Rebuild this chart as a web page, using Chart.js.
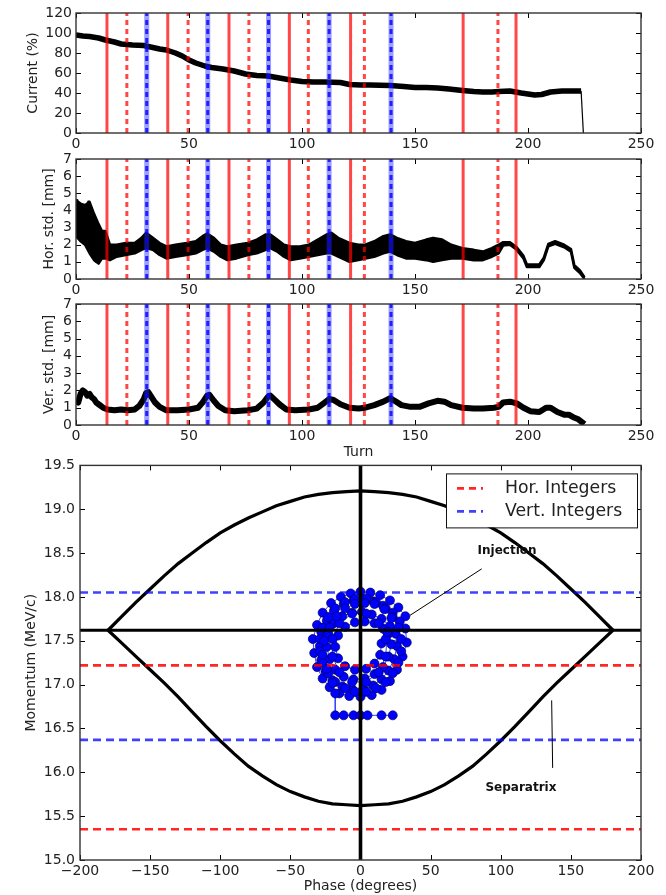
<!DOCTYPE html>
<html>
<head>
<meta charset="utf-8">
<script src="https://cdn.jsdelivr.net/npm/chart.js@4.4.0/dist/chart.umd.min.js"></script>
<style>
  html, body { margin: 0; padding: 0; background: #fff; }
  #wrap { position: relative; width: 666px; height: 895px; overflow: hidden; }
  #wrap canvas { position: absolute; left: 0; }
</style>
</head>
<body>
<div id="wrap">
  <canvas id="c1" width="666" height="155" style="top:0px"></canvas>
  <canvas id="c2" width="666" height="155" style="top:146px"></canvas>
  <canvas id="c3" width="666" height="170" style="top:291px"></canvas>
  <canvas id="c4" width="666" height="443" style="top:452px"></canvas>
</div>
<script>
// turns where the tune crosses an integer
const redSolidTurns = [13.7, 40.6, 67.7, 94.4, 121.5, 171.3, 194.7];
const redDashedTurns = [22.5, 49.6, 76.5, 102.8, 127.6, 186.7];
const blueTurns = [31.3, 58.3, 85.2, 112.0, 139.4];

// beam current
const currentTurn = [0,3,6,10,13,17,20,25,30,33,37,40,44,47,50,53,57,60,65,70,75,80,85,90,95,100,105,110,117,121,126,130,139,145,150,155,160,165,171,176,180,184,187,192,197,200,203,206,210,215,220,223.5,224.5];
const currentPct = [98,97,96.5,95,93,91,89,88,87.5,86,84,83,80,77,73,70,67,65.5,64,62,59,57.5,57,55,53,51.5,51,51,50.5,48.5,48,48,47.5,46.5,45.5,45.5,45,44,42.5,41.5,41,41,41.5,42,40,39,38,38.5,41,42,42,42,0];

// horizontal beam size (band low / high)
const horTurn = [0,2,4,6,8,10,11.5,13,15,18,22,26,29,31,34,37,40,44,49,53,56,58,61,64,67,71,76,80,84,86,89,92,95,99,103,107,111,113,116,121,125,128,132,136,139,142,146,150,155,158,162,166,171,176,180,184,187,189,192,195,198,199.5,205,207,209,212,216,219,220.5,223,225];
const horLow = [2.5,2.2,2.0,1.5,1.1,0.9,1.2,1.2,1.1,1.3,1.4,1.5,1.7,1.8,1.7,1.4,1.2,1.3,1.4,1.5,1.7,1.8,1.6,1.3,1.1,1.2,1.4,1.5,1.7,1.8,1.6,1.3,1.1,1.2,1.3,1.4,1.5,1.5,1.3,1.0,1.1,1.2,1.3,1.5,1.6,1.4,1.2,1.2,1.1,1.0,1.1,1.2,1.2,1.1,1.1,1.3,1.5,1.95,2.0,1.7,1.2,0.7,0.7,1.1,1.9,2.05,1.85,1.6,0.65,0.35,0.0];
const horHigh = [4.6,4.4,4.3,4.5,3.8,3.2,2.8,2.8,2.0,2.0,2.1,2.1,2.4,2.7,2.4,2.1,1.9,2.0,2.1,2.2,2.5,2.65,2.4,2.0,1.9,2.0,2.1,2.3,2.6,2.6,2.3,2.0,1.9,1.9,2.0,2.3,2.6,2.7,2.4,2.1,2.0,2.0,2.2,2.5,2.6,2.4,2.2,2.1,2.3,2.4,2.3,2.0,1.8,1.7,1.6,1.8,2.0,2.15,2.15,1.85,1.35,0.85,0.85,1.25,2.05,2.2,2.0,1.75,0.8,0.5,0.1];
const horNoiseTurn = [0,0.5,1,1.5,2,2.5,3,3.5,4,4.5,5,5.5,6,6.5,7,7.5,8,8.5,9,9.5,10,10.5,11,11.5,12,12.5,13];
const horNoise = [3.2,4.6,2.8,4.3,2.6,4.0,2.2,3.8,2.5,3.5,1.9,4.5,2.3,3.6,1.6,3.3,1.4,2.9,1.0,2.6,1.3,2.7,1.2,2.5,1.4,2.3,1.5];

// vertical beam size
const verTurn = [0,1,2,3,4,5,6,7,8,9,10,12,14,17,20,23,26,28,30,31,32,33,35,37,40,45,50,54,56,58,59,61,63,66,70,76,80,83,85,86,88,90,93,97,103,107,110,112,114,117,121,125,128,132,136,139,141,144,148,152,156,160,163,166,171,176,180,185,187,189,192,195,198,201,205,208,210,213,216,218,220,222,224,225];
const verStd = [1.4,1.3,1.8,2.0,1.9,1.7,1.8,1.6,1.5,1.3,1.2,1.0,0.9,0.85,0.9,0.85,0.9,1.1,1.5,1.85,1.9,1.7,1.3,1.05,0.85,0.85,0.9,1.0,1.3,1.7,1.75,1.4,1.1,0.85,0.8,0.85,0.95,1.3,1.65,1.7,1.45,1.2,0.9,0.85,0.9,1.0,1.3,1.5,1.45,1.2,1.0,0.95,1.0,1.15,1.35,1.55,1.4,1.15,1.05,1.05,1.25,1.4,1.35,1.15,1.0,0.95,0.95,1.0,1.05,1.3,1.35,1.25,1.0,0.8,0.75,1.0,1.0,0.75,0.6,0.6,0.45,0.35,0.15,0.05];

// longitudinal phase space
const sepPhase = [-180,-170,-160,-150,-140,-130,-120,-110,-100,-90,-80,-70,-60,-50,-40,-30,-20,-10,0,10,20,30,40,50,60,70,80,90,100,110,120,130,140,150,160,170,180];
const sepUpper = [17.62,17.78,17.94,18.09,18.24,18.38,18.50,18.62,18.73,18.82,18.90,18.97,19.04,19.09,19.14,19.17,19.19,19.20,19.21,19.20,19.19,19.17,19.14,19.09,19.04,18.97,18.90,18.82,18.73,18.62,18.50,18.38,18.24,18.09,17.94,17.78,17.62];
const sepLower = [17.62,17.47,17.32,17.17,17.02,16.86,16.69,16.52,16.36,16.21,16.07,15.96,15.86,15.78,15.72,15.67,15.64,15.63,15.62,15.63,15.64,15.67,15.72,15.78,15.86,15.96,16.07,16.21,16.36,16.52,16.69,16.86,17.02,17.17,17.32,17.47,17.62];
const syncMomentum = 17.62;
const horIntegers = [17.22, 15.35];
const vertIntegers = [18.05, 16.37];
const trajPhase = [32,27,21,14,7,0,-7,-14,-21,-27,-31,-34,-33,-31,-27,-22,-15,-8,0,8,15,21,26,30,33,32,
  28,23,16,9,2,-5,-12,-19,-24,-28,-29,-28,-25,-20,-13,-6,2,9,15,20,24,26,25,
  21,15,8,1,-6,-13,-19,-23,-24,-22,-18,-12,-5,3,10,16,20,22,20,
  16,10,3,-4,-11,-16,-18,-16,-11,-4,4,10,14,15,
  29,27,23,18,11,4,-4,-11,-18,-23,-27,-29,-29,-27,-23,-18,-11,-4,4,11,18,23,27,29,
  18,13,4,-6,-15,-20,-20,-15,-6,4,13,18,
  19,22,17,10,3,-4,-11,-17,-22,-26,-27,-24,-20,-18,-18,-12,-5,0,5,15,23];
const trajMom = [17.78,17.88,17.96,18.02,18.05,18.06,18.04,18.0,17.93,17.82,17.68,17.52,17.36,17.2,17.07,16.97,16.9,16.87,16.86,16.88,16.94,17.04,17.17,17.32,17.48,17.64,
  17.72,17.82,17.9,17.95,17.97,17.96,17.92,17.84,17.73,17.6,17.44,17.28,17.15,17.05,16.98,16.95,16.95,16.99,17.06,17.16,17.29,17.44,17.58,
  17.67,17.75,17.8,17.83,17.82,17.78,17.7,17.58,17.43,17.29,17.17,17.09,17.06,17.07,17.12,17.2,17.32,17.46,17.58,
  17.64,17.7,17.72,17.71,17.66,17.56,17.43,17.3,17.21,17.17,17.18,17.24,17.34,17.47,
  17.52,17.65,17.77,17.87,17.94,17.98,17.98,17.94,17.87,17.77,17.65,17.52,17.38,17.25,17.13,17.03,16.96,16.92,16.92,16.96,17.03,17.13,17.25,17.38,
  17.52,17.7,17.81,17.81,17.7,17.52,17.32,17.14,17.03,17.03,17.14,17.32,
  17.6,17.76,17.86,17.92,17.93,17.92,17.87,17.78,17.65,17.5,17.34,17.18,17.02,16.9,16.65,16.65,16.65,16.65,16.65,16.65,16.65];

const FONT = "'DejaVu Sans', 'Liberation Sans', sans-serif";
const TXT = '#222';

const pts = (xs, ys) => xs.map((x, i) => ({ x: x, y: ys[i] }));

// inward ticks on all four sides plus the box
const framePlugin = {
  id: 'frame',
  afterDatasetsDraw(chart) {
    const { ctx, chartArea: a, scales } = chart;
    ctx.save();
    ctx.strokeStyle = '#000';
    ctx.lineWidth = 1;
    ctx.beginPath();
    scales.x.ticks.forEach(t => {
      const px = Math.round(scales.x.getPixelForValue(t.value)) + 0.5;
      ctx.moveTo(px, a.bottom); ctx.lineTo(px, a.bottom - 5);
      ctx.moveTo(px, a.top); ctx.lineTo(px, a.top + 5);
    });
    scales.y.ticks.forEach(t => {
      const py = Math.round(scales.y.getPixelForValue(t.value)) + 0.5;
      ctx.moveTo(a.left, py); ctx.lineTo(a.left + 5, py);
      ctx.moveTo(a.right, py); ctx.lineTo(a.right - 5, py);
    });
    ctx.stroke();
    ctx.strokeStyle = '#333';
    ctx.lineWidth = 1.4;
    ctx.strokeRect(a.left, a.top, a.width, a.height);
    ctx.restore();
  }
};

function markerLines(yMax) {
  const sets = [];
  const v = t => [{ x: t, y: 0 }, { x: t, y: yMax }];
  redSolidTurns.forEach(t => sets.push({ data: v(t), borderColor: 'rgba(255,0,0,0.72)', borderWidth: 3, order: 1 }));
  redDashedTurns.forEach(t => sets.push({ data: v(t), borderColor: 'rgba(255,0,0,0.72)', borderWidth: 3, borderDash: [5, 4], order: 1 }));
  blueTurns.forEach(t => {
    sets.push({ data: v(t), borderColor: 'rgba(40,40,255,0.45)', borderWidth: 5, order: 2 });
    sets.push({ data: v(t), borderColor: 'rgba(0,0,255,0.8)', borderWidth: 3, borderDash: [5, 4], order: 1 });
  });
  return sets;
}

function stripChart(id, yMax, yStep, yTitle, titlePad, datasets, xHeight, showTurn) {
  return new Chart(document.getElementById(id), {
    type: 'line',
    data: { datasets: markerLines(yMax).concat(datasets) },
    options: {
      responsive: false,
      animation: false,
      events: [],
      layout: { padding: { top: 13, right: 25, left: 0, bottom: 0 } },
      plugins: { legend: { display: false }, tooltip: { enabled: false } },
      elements: { point: { radius: 0 }, line: { tension: 0, borderJoinStyle: 'round' } },
      scales: {
        x: {
          type: 'linear', min: 0, max: 250,
          grid: { display: false, drawTicks: false }, border: { display: false },
          ticks: { stepSize: 50, autoSkip: false, maxRotation: 0, padding: 3, color: TXT, font: { family: FONT, size: 14 } },
          title: { display: showTurn, text: 'Turn', color: TXT, font: { family: FONT, size: 14 }, padding: { top: 0, bottom: 0.6 } },
          afterFit: s => { s.height = xHeight; }
        },
        y: {
          type: 'linear', min: 0, max: yMax,
          grid: { display: false, drawTicks: false }, border: { display: false },
          ticks: { stepSize: yStep, autoSkip: false, padding: 4, color: TXT, font: { family: FONT, size: 14 } },
          title: { display: true, text: yTitle, color: TXT, font: { family: FONT, size: 14 }, padding: { top: titlePad, bottom: 0 } },
          afterFit: s => { s.width = 76; }
        }
      }
    },
    plugins: [framePlugin]
  });
}

const lastCur = currentTurn.length - 1;
stripChart('c1', 120, 20, 'Current (%)', 24.6, [{
  data: pts(currentTurn, currentPct), borderColor: '#000', borderWidth: 5.5, order: 10,
  segment: { borderWidth: c => (c.p1DataIndex === lastCur ? 1.2 : 5.5) }
}], 22, false);

stripChart('c2', 7, 1, 'Hor. std. [mm]', 40.6, [
  { data: pts(horTurn, horHigh), borderColor: '#000', borderWidth: 2.5, backgroundColor: '#000', fill: '+1', order: 10 },
  { data: pts(horTurn, horLow), borderColor: '#000', borderWidth: 2.5, fill: false, order: 10 },
  { data: pts(horNoiseTurn, horNoise), borderColor: '#000', borderWidth: 2.5, order: 9 }
], 22, false);

stripChart('c3', 7, 1, 'Ver. std. [mm]', 40.6, [
  { data: pts(verTurn, verStd), borderColor: '#000', borderWidth: 6, order: 10 }
], 36, true);

// phase space panel
const hLine = (y, color, dash, w, order) => ({
  data: [{ x: -200, y: y }, { x: 200, y: y }], borderColor: color, borderWidth: w, borderDash: dash, pointRadius: 0, order: order
});
const psSets = [];
horIntegers.forEach(v => psSets.push(hLine(v, 'rgba(255,0,0,0.85)', [8, 5], 2.6, 2)));
vertIntegers.forEach(v => psSets.push(hLine(v, 'rgba(0,0,255,0.75)', [8, 5], 2.6, 2)));
psSets.push(hLine(syncMomentum, '#000', [], 3, 1));
psSets.push({ data: [{ x: 0, y: 15 }, { x: 0, y: 19.5 }], borderColor: '#000', borderWidth: 3.6, pointRadius: 0, order: 1 });
psSets.push({ data: pts(sepPhase, sepUpper), borderColor: '#000', borderWidth: 3.2, pointRadius: 0, order: 3 });
psSets.push({ data: pts(sepPhase, sepLower), borderColor: '#000', borderWidth: 3.2, pointRadius: 0, order: 3 });
psSets.push({
  data: pts(trajPhase, trajMom), borderColor: '#3344ff', borderWidth: 1,
  pointRadius: 4.5, pointBackgroundColor: '#0000ff', pointBorderColor: '#000055', pointBorderWidth: 0.7, order: 20
});

const notes = [
  { text: 'Injection', at: [104.5, 18.52], from: [86.4, 18.32], to: [35.3, 17.79] },
  { text: 'Separatrix', at: [114.4, 15.82], from: [137, 16.05], to: [136.3, 16.82] }
];

const notePlugin = {
  id: 'notes',
  afterDatasetsDraw(chart) {
    const { ctx, scales: { x, y } } = chart;
    ctx.save();
    ctx.strokeStyle = '#000';
    ctx.lineWidth = 1;
    ctx.fillStyle = '#111';
    ctx.font = "bold 12px " + FONT;
    ctx.textAlign = 'center';
    ctx.textBaseline = 'middle';
    notes.forEach(n => {
      ctx.beginPath();
      ctx.moveTo(x.getPixelForValue(n.from[0]), y.getPixelForValue(n.from[1]));
      ctx.lineTo(x.getPixelForValue(n.to[0]), y.getPixelForValue(n.to[1]));
      ctx.stroke();
      ctx.fillText(n.text, x.getPixelForValue(n.at[0]), y.getPixelForValue(n.at[1]));
    });
    ctx.restore();
  }
};

const legendItems = [
  { text: 'Hor. Integers', color: 'rgba(255,0,0,0.85)' },
  { text: 'Vert. Integers', color: 'rgba(0,0,255,0.75)' }
];
const legendPlugin = {
  id: 'boxLegend',
  afterDraw(chart) {
    const { ctx, chartArea: a } = chart;
    const left = a.right - 195, top = a.top + 8, w = 191, h = 54;
    ctx.save();
    ctx.fillStyle = '#fff';
    ctx.fillRect(left, top, w, h);
    ctx.strokeStyle = '#111';
    ctx.lineWidth = 1;
    ctx.strokeRect(left + 0.5, top + 0.5, w, h);
    ctx.font = "17.3px " + FONT;
    ctx.textBaseline = 'middle';
    ctx.textAlign = 'left';
    legendItems.forEach((it, i) => {
      const yy = top + 15 + i * 23;
      ctx.strokeStyle = it.color;
      ctx.lineWidth = 2.6;
      ctx.setLineDash([7, 5]);
      ctx.beginPath();
      ctx.moveTo(left + 11, yy); ctx.lineTo(left + 37, yy);
      ctx.stroke();
      ctx.setLineDash([]);
      ctx.fillStyle = TXT;
      ctx.fillText(it.text, left + 59, yy);
    });
    ctx.restore();
  }
};

new Chart(document.getElementById('c4'), {
  type: 'line',
  data: { datasets: psSets },
  options: {
    responsive: false,
    animation: false,
    events: [],
    layout: { padding: { top: 13, right: 25, left: 0, bottom: 0 } },
    plugins: { legend: { display: false }, tooltip: { enabled: false } },
    elements: { line: { tension: 0 } },
    scales: {
      x: {
        type: 'linear', min: -200, max: 200,
        grid: { display: false, drawTicks: false }, border: { display: false },
        ticks: { stepSize: 50, autoSkip: false, maxRotation: 0, padding: 3, color: TXT, font: { family: FONT, size: 14 },
          callback: v => String(v).replace('-', '\u2212') },
        title: { display: true, text: 'Phase (degrees)', color: TXT, font: { family: FONT, size: 14 }, padding: { top: 0, bottom: 0.6 } },
        afterFit: s => { s.height = 35; }
      },
      y: {
        type: 'linear', min: 15, max: 19.5,
        grid: { display: false, drawTicks: false }, border: { display: false },
        ticks: { stepSize: 0.5, autoSkip: false, padding: 5, color: TXT, font: { family: FONT, size: 14 },
          callback: v => Number(v).toFixed(1) },
        title: { display: true, text: 'Momentum (MeV/c)', color: TXT, font: { family: FONT, size: 14 }, padding: { top: 22.6, bottom: 0 } },
        afterFit: s => { s.width = 80; }
      }
    }
  },
  plugins: [framePlugin, notePlugin, legendPlugin]
});
</script>
</body>
</html>
